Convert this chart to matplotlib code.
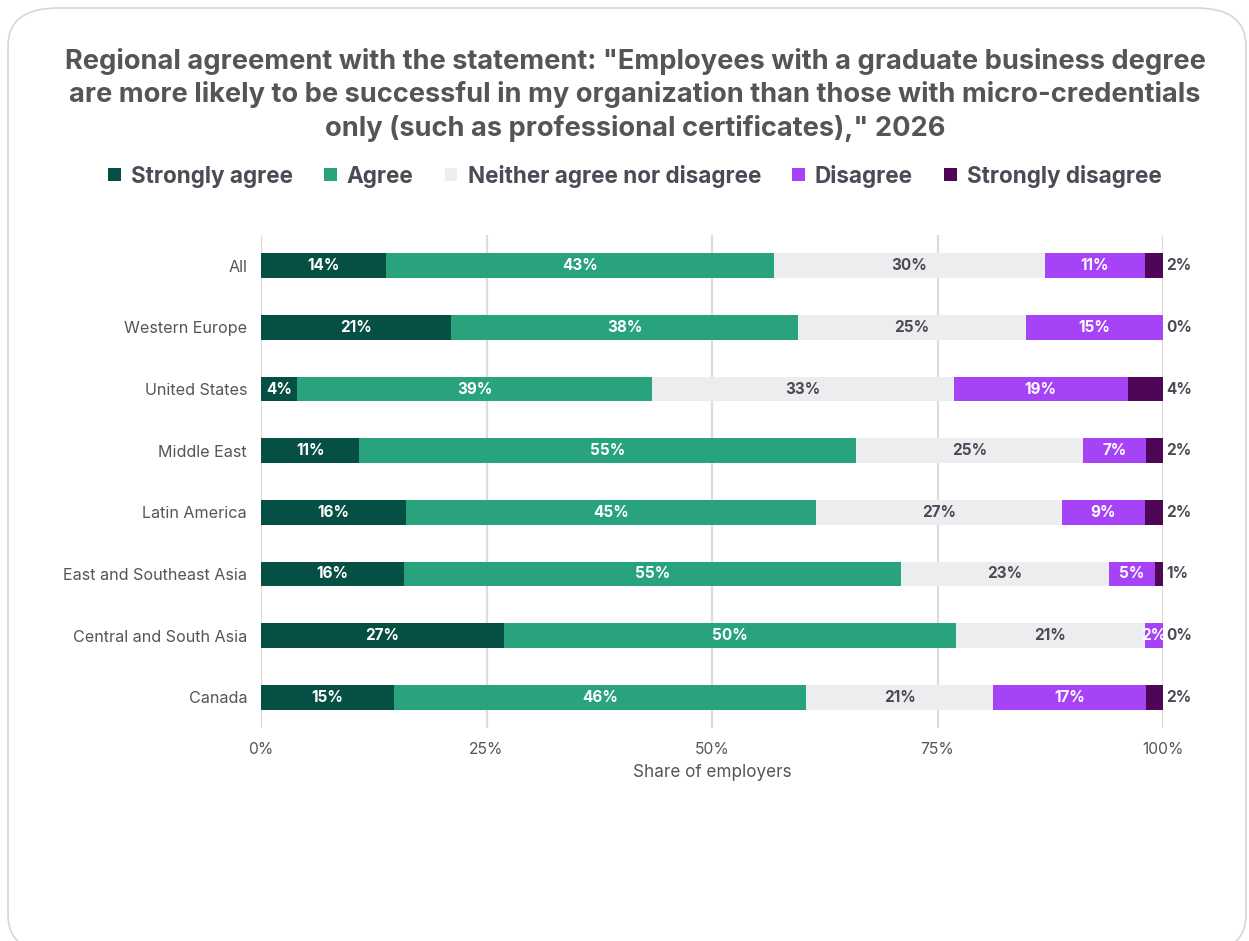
import matplotlib
matplotlib.use("Agg")
import matplotlib.pyplot as plt
from matplotlib.patches import FancyBboxPatch, Patch
import numpy as np

plt.rcParams['font.family'] = ['Inter', 'DejaVu Sans']

regions = ["All", "Western Europe", "United States", "Middle East",
           "Latin America", "East and Southeast Asia", "Central and South Asia", "Canada"]
responses = ["Strongly agree", "Agree", "Neither agree nor disagree", "Disagree", "Strongly disagree"]

strongly_agree = [13.9, 21.1, 4.0, 10.9, 16.1, 15.9, 26.9, 14.7]
agree = [43.0, 38.4, 39.4, 55.1, 45.4, 55.1, 50.1, 45.7]
neither = [30.0, 25.3, 33.4, 25.1, 27.3, 23.0, 21.0, 20.8]
disagree = [11.1, 15.2, 19.3, 7.0, 9.2, 5.1, 2.0, 16.9]
strongly_disagree = [1.95, 0.0, 4.0, 1.95, 2.0, 0.9, 0.0, 1.9]

xticks = [0, 25, 50, 75, 100]
xtick_labels = ["0%", "25%", "50%", "75%", "100%"]

colors = ["#064f44", "#29a37e", "#ecedef", "#a643f6", "#4e0656"]
label_colors = ["white", "white", "#4a4b55", "white", None]
dark = "#4a4b55"

fig = plt.figure(figsize=(12.49, 9.41), dpi=100)

# rounded card behind everything
card = FancyBboxPatch((8 / 1249, -12 / 941), 1238 / 1249, 945 / 941,
                      boxstyle="round,pad=0,rounding_size=0.04",
                      transform=fig.transFigure, facecolor="white",
                      edgecolor="#d6d6d6", linewidth=1.2, zorder=-10)
fig.patches.append(card)

ax = fig.add_axes([261 / 1249, 1 - 728 / 941, 902 / 1249, 493 / 941])

series = [strongly_agree, agree, neither, disagree, strongly_disagree]
y = np.arange(len(regions))
left = np.zeros(len(regions))
for i, vals in enumerate(series):
    vals = np.array(vals)
    ax.barh(y, vals, left=left, height=0.4, color=colors[i], zorder=3)
    for j, v in enumerate(vals):
        txt = f"{v:.0f}%"
        if i == 4:
            ax.text(100.4, y[j], txt, ha="left", va="center", fontsize=11,
                    fontweight="bold", color=dark, zorder=4)
        else:
            ax.text(left[j] + v / 2, y[j], txt, ha="center", va="center",
                    fontsize=11, fontweight="bold", color=label_colors[i], zorder=4)
    left += vals

ax.set_xlim(0, 100)
ax.set_ylim(len(regions) - 0.5, -0.5)
ax.set_yticks(y)
ax.set_yticklabels(regions, fontsize=11.6, color="#555555")
ax.set_xticks(xticks)
ax.set_xticklabels(xtick_labels, fontsize=11.3, color="#555555")
ax.tick_params(length=0)
ax.tick_params(axis="y", pad=10)
ax.tick_params(axis="x", pad=10)
ax.grid(axis="x", color="#dcdcdc", linewidth=1.6, zorder=0)
for s in ax.spines.values():
    s.set_visible(False)
ax.set_xlabel("Share of employers", fontsize=12.3, color="#555555", labelpad=5)

fig.text(635 / 1249, 1 - 95 / 941,
         "Regional agreement with the statement: \"Employees with a graduate business degree\n"
         "are more likely to be successful in my organization than those with micro-credentials\n"
         "only (such as professional certificates),\" 2026",
         ha="center", va="center", fontsize=19.6, fontweight="bold", color="#555555",
         linespacing=1.32)

handles = [Patch(facecolor=c, edgecolor="none") for c in colors]
fig.legend(handles, responses, loc="center", bbox_to_anchor=(635 / 1249, 1 - 176 / 941),
           ncol=5, frameon=False, handlelength=0.55, handleheight=0.55,
           handletextpad=0.45, columnspacing=1.4,
           prop={"weight": "bold", "size": 16.2}, labelcolor="#4a4b55")

fig.savefig("out.png", dpi=100)
